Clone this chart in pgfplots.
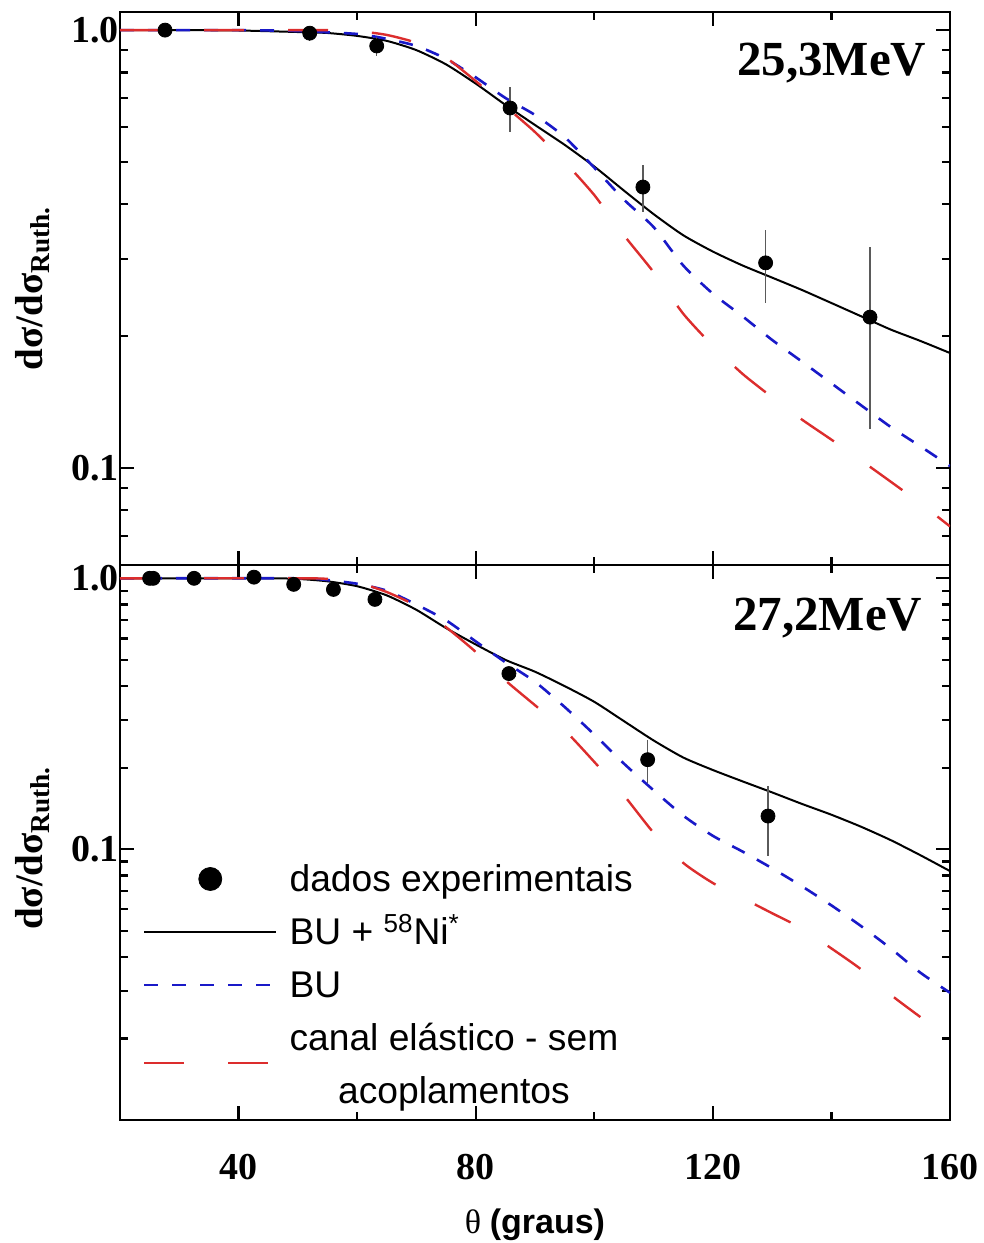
\documentclass[border=0pt]{standalone}
\usepackage{pgfplots}
\pgfplotsset{compat=1.18}
\usepackage{fontspec}
\setmainfont{Liberation Serif}
\setsansfont{Liberation Sans}
\definecolor{cblue}{RGB}{25,25,200}
\definecolor{cred}{RGB}{220,45,45}
\definecolor{cbar}{RGB}{90,90,90}

\pgfplotsset{
  panel/.style={
    width=415pt, scale only axis, xmin=20, xmax=160,
    xtick={40,80,120,160}, minor xtick={60,100,140},
    axis line style={line width=1.1pt},
    every tick/.style={black, line width=1.1pt},
    major tick length=7pt, minor tick length=4pt,
    tick align=inside,
    tick label style={font=\fontsize{19}{19}\selectfont\bfseries},
    yticklabel style={xshift=3pt},
    xticklabel style={yshift=-13.5pt},
    ylabel style={font=\fontsize{19.5}{19.5}\selectfont\bfseries, anchor=base},
  },
  solid curve/.style={black, line width=1pt, no markers, smooth, tension=0.4},
  bu curve/.style={cblue, line width=1.3pt, dash pattern=on 7pt off 7pt, no markers, smooth, tension=0.4},
  el curve/.style={cred, line width=1.2pt, dash pattern=on 20pt off 22pt, no markers, smooth, tension=0.4},
  datapts/.style={only marks, mark=*, mark size=3.5pt, black,
    error bars/y dir=both, error bars/y explicit, error bars/error mark=none,
    error bars/error bar style={line width=0.75pt, cbar}},
  legimg line/.style={legend image code/.code={\draw[##1] (0pt,0pt) -- (66pt,0pt);}},
  legimg low/.style={legend image code/.code={\draw[##1] (0pt,-12.5pt) -- (66pt,-12.5pt);}},
  legimg mark/.style={legend image code/.code={\draw[##1] plot coordinates {(33pt,0pt)};}},
}

\newcommand{\ylab}{dσ/dσ\textsubscript{Ruth.}}

\begin{document}
\begin{tikzpicture}
\useasboundingbox (-60pt,-61.5pt) rectangle (432pt,560pt);

% ---------------- top panel: 25,3 MeV ----------------
\begin{axis}[ymode=log, panel, at={(0pt,277.5pt)}, anchor=south west, height=276.5pt,
  ymin=0.06, ymax=1.1, xticklabels={},
  ytick={0.1,1}, yticklabels={0.1,1.0},
  minor ytick={0.07,0.08,0.09,0.2,0.3,0.4,0.5,0.6,0.7,0.8,0.9},
  ylabel={\ylab},
  ylabel style={at={(axis description cs:-0.0928,0.5)}},
]
\addplot[solid curve] coordinates {(20,1.0) (30,1.0) (40,0.998) (50,0.99) (55,0.985) (60,0.97) (65,0.945) (70,0.90) (75,0.835) (80,0.755) (85,0.675) (90,0.607) (95,0.547) (100,0.488) (105,0.43) (110,0.38) (115,0.34) (120,0.312) (125,0.29) (130,0.272) (135,0.255) (140,0.238) (145,0.222) (150,0.207) (155,0.195) (160,0.183)};
\addplot[bu curve] coordinates {(20,1.0) (40,1.0) (50,0.995) (60,0.98) (65,0.955) (70,0.92) (75,0.86) (80,0.78) (85,0.70) (90,0.64) (95,0.57) (100,0.485) (105,0.41) (110,0.355) (115,0.29) (120,0.25) (125,0.222) (130,0.196) (135,0.175) (140,0.156) (145,0.139) (150,0.124) (155,0.112) (160,0.101)};
\addplot[el curve] coordinates {(20,1.0) (55,1.0) (60,0.995) (65,0.975) (70,0.935) (75,0.865) (80,0.765) (85,0.67) (90,0.585) (95,0.5) (100,0.42) (105,0.34) (110,0.28) (115,0.225) (120,0.19) (125,0.164) (130,0.145) (135,0.129) (140,0.116) (145,0.104) (150,0.093) (155,0.083) (160,0.0735)};
\addplot[datapts] coordinates {
  (27.6,1.0) +- (0,0.015)
  (52.0,0.984) +- (0,0.04)
  (63.3,0.92) +- (0,0.045)
  (85.8,0.664) +- (0,0.078)
  (108.2,0.438) +- (0,0.054)
  (128.9,0.294) +- (0,0.056)
  (146.5,0.221) +- (0,0.098)
};
\node[anchor=north east, inner sep=0pt, font=\fontsize{24.5}{24.5}\selectfont\bfseries] at (rel axis cs:0.972,0.944) {25,3MeV};
\end{axis}

% ---------------- bottom panel: 27,2 MeV ----------------
\begin{axis}[ymode=log, panel, at={(0pt,0pt)}, anchor=south west, height=277.5pt,
  ymin=0.01, ymax=1.12, xticklabels={40,80,120,160},
  ytick={0.01,0.1,1}, yticklabels={,0.1,1.0},
  minor ytick={0.02,0.03,0.04,0.05,0.06,0.07,0.08,0.09,0.2,0.3,0.4,0.5,0.6,0.7,0.8,0.9},
  ylabel={\ylab},
  ylabel style={at={(axis description cs:-0.0928,0.49)}},
  xlabel={\fontsize{17}{17}\selectfont θ \textsf{\bfseries(graus)}},
  xlabel style={at={(axis description cs:0.5,0)}, anchor=base, yshift=-56.5pt},
  legend style={at={(axis description cs:0.0277,0.482)}, anchor=north west,
    draw=none, fill=none, inner sep=0pt, outer sep=0pt, row sep=0pt, column sep=0pt,
    font=\fontsize{18.6}{22.3}\selectfont\sffamily,
    nodes={text height=15pt, text depth=2pt, inner ysep=4.75pt, inner xsep=6pt},
    cells={anchor=west}},
]
\addlegendimage{only marks, mark=*, mark size=5.75pt, black, legimg mark}
\addlegendentry{dados experimentais}
\addlegendimage{black, line width=1pt, legimg line}
\addlegendentry{BU + \textsuperscript{58}Ni\textsuperscript{*}}
\addlegendimage{cblue, line width=1.3pt, dash pattern=on 7pt off 7pt, legimg line}
\addlegendentry{BU}
\addlegendimage{cred, line width=1.2pt, dash pattern=on 20pt off 22pt, legimg low}
\addlegendentry{{\renewcommand{\arraystretch}{1.17}\begin{tabular}[t]{@{}c@{}}canal elástico - sem\\acoplamentos\end{tabular}}}

\addplot[forget plot, solid curve] coordinates {(20,1.0) (45,1.0) (50,0.995) (55,0.975) (60,0.935) (65,0.865) (70,0.765) (75,0.655) (80,0.57) (85,0.50) (90,0.452) (95,0.40) (100,0.35) (105,0.297) (110,0.252) (115,0.218) (120,0.196) (125,0.178) (130,0.162) (135,0.147) (140,0.134) (145,0.121) (150,0.108) (155,0.095) (160,0.083)};
\addplot[forget plot, bu curve] coordinates {(20,1.0) (50,1.0) (55,0.985) (60,0.955) (65,0.9) (70,0.80) (75,0.70) (80,0.585) (85,0.49) (90,0.415) (95,0.335) (100,0.265) (105,0.207) (110,0.165) (115,0.133) (120,0.112) (125,0.098) (130,0.085) (135,0.073) (140,0.062) (145,0.052) (150,0.043) (155,0.035) (160,0.0295)};
\addplot[forget plot, el curve] coordinates {(20,1.0) (50,1.0) (55,0.995) (60,0.965) (65,0.89) (70,0.79) (75,0.66) (80,0.535) (85,0.42) (90,0.34) (95,0.275) (100,0.21) (105,0.158) (110,0.115) (115,0.089) (120,0.075) (125,0.066) (130,0.058) (135,0.051) (140,0.043) (145,0.036) (150,0.029) (155,0.024)};
\addplot[forget plot, datapts] coordinates {
  (25.0,1.0) +- (0,0.01)
  (25.6,1.0) +- (0,0.01)
  (32.5,1.0) +- (0,0.015)
  (42.6,1.01) +- (0,0.015)
  (49.3,0.95) +- (0,0.015)
  (56.0,0.91) +- (0,0.015)
  (63.0,0.836) +- (0,0.015)
  (85.6,0.445) +- (0,0.02)
  (109.0,0.214) +- (0,0.038)
  (129.3,0.1325) +- (0,0.0385)
};
\node[anchor=north east, inner sep=0pt, font=\fontsize{24.5}{24.5}\selectfont\bfseries] at (rel axis cs:0.967,0.9405) {27,2MeV};
\end{axis}
\end{tikzpicture}
\end{document}
